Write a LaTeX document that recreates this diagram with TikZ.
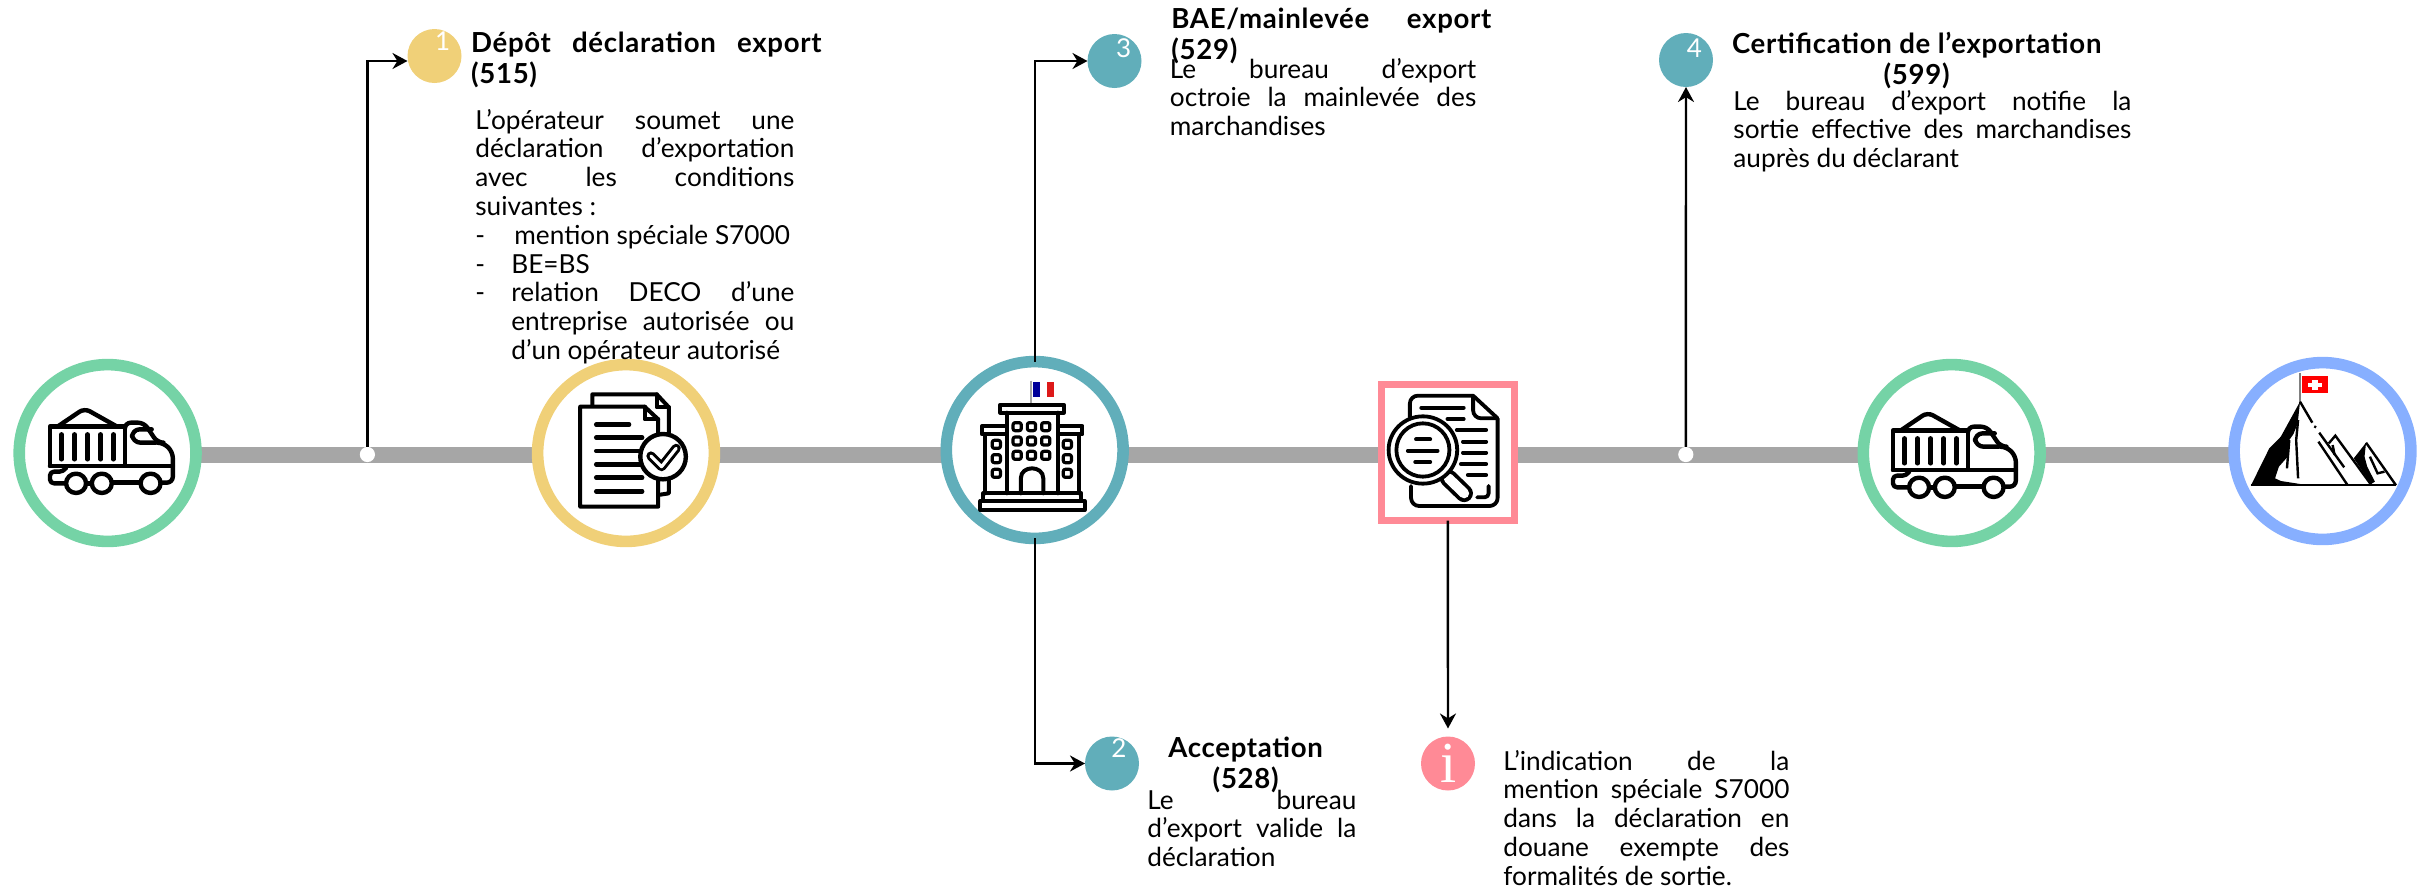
\documentclass[tikz,border=0pt]{standalone}
\usepackage{fontspec}
\setmainfont{Lato}
\newfontfamily\titlefont[LetterSpace=2.5]{Lato}
\newfontfamily\serifi{Liberation Serif}
\usetikzlibrary{arrows.meta,calc}
\definecolor{cgreen}{HTML}{75D3A6}
\definecolor{cyellow}{HTML}{F0D078}
\definecolor{cteal}{HTML}{61AEBA}
\definecolor{cpink}{HTML}{FF8A96}
\definecolor{cblue}{HTML}{87AFFF}
\definecolor{cbar}{HTML}{A6A6A6}
\newcommand\jl[1]{\hbox to\hsize{#1}}
\newcommand\fl[1]{\hbox to\hsize{#1\hfil}}
\newcommand\cl[1]{\hbox to\hsize{\hfil#1\hfil}}
\newcommand\blocktext[2]{\vtop{\hsize=#1\parindent=0pt\lineskiplimit=-100pt\baselineskip=14.4pt #2}}
\newcommand\blocktitle[2]{\vtop{\hsize=#1\parindent=0pt\lineskiplimit=-100pt\baselineskip=15.6pt #2}}
\newcommand\itemdash{\makebox[18pt][l]{-}}
\newcommand\trucksketch{%
  \draw[icon] (190,302) rectangle (385,420);
  \draw[icon,rounded corners=3pt] (212,300) -- (280,247) -- (362,300);
  \foreach \sx in {220,254,288,322,355} \draw[icon] (\sx,325) -- (\sx,400);
  \draw[icon,rounded corners=3pt] (385,300) -- (385,290) -- (435,290) -- (470,350) -- (485,350) -- (510,378) -- (510,470) -- (478,470);
  \draw[icon,rounded corners=4pt] (465,350) -- (405,350) -- (403,310) -- (455,310);
  \draw[icon] (190,420) -- (510,420);
  \draw[icon,rounded corners=2pt] (232,425) -- (225,437) -- (190,437) -- (190,472) -- (232,472);
  \draw[icon] (284,472) -- (298,472) (352,470) -- (426,470);
  \foreach \sx in {258,325,452} \draw[icon,fill=white] (\sx,472) circle [x radius=26,y radius=29];
}
\tikzset{
  icon/.style={draw=black,line width=2.2pt,line cap=round,line join=round},
  ring/.style={circle,draw=#1,line width=5.8pt,fill=white,minimum size=88.4pt,inner sep=0pt,outer sep=0pt},
  badge/.style={circle,fill=#1,minimum size=27pt,inner sep=0pt,outer sep=0pt},
  num/.style={text=white,inner sep=0pt,font=\fontsize{13}{15}\selectfont},
  dotj/.style={circle,fill=white,minimum size=7.6pt,inner sep=0pt,outer sep=0pt},
  conn/.style={draw=black,line width=1.2pt,-{Stealth[length=7.5pt,width=8pt]}},
  bodyt/.style={inner sep=0pt,anchor=base west,font=\fontsize{13.1}{14.4}\selectfont},
  titlet/.style={inner sep=0pt,anchor=base west,font=\titlefont\bfseries\fontsize{13.8}{15.6}\selectfont},
}
\begin{document}
\begin{tikzpicture}[x=0.5pt,y=-0.5pt]
\useasboundingbox (0,0) rectangle (2422,890);
\coordinate (barL) at (107,455);
\coordinate (barR) at (2322,455);
\draw[cbar,line width=8pt] (barL) -- (barR);
\node[dotj] (j1) at (367.4,454.5) {};
\node[dotj] (j2) at (1685.8,454.5) {};
% badges
\node[badge=cyellow] (n1) at (434.5,56) {};
\node[badge=cteal] (n3) at (1114.5,61) {};
\node[badge=cteal] (n4) at (1686,60) {};
\node[badge=cteal] (n2) at (1112,763.5) {};
\node[badge=cpink] (ni) at (1448,763.5) {};
% rings
\node[ring=cgreen] (c1) at (107.6,453) {};
\node[ring=cyellow] (c2) at (626,453) {};
\node[ring=cteal] (c3) at (1034.7,450) {};
\node[draw=cpink,line width=3.4pt,fill=white,inner sep=0pt,outer sep=0pt,minimum width=66.3pt,minimum height=68.1pt] (sq) at (1447.8,452.5) {};
\node[ring=cgreen] (c4) at (1951.7,453) {};
\node[ring=cblue] (c5) at (2322.5,451) {};
% connectors
\coordinate (a1) at ($(n1.west)+(0,5)$);
\draw[conn] (j1.north) |- (a1);
\draw[conn] (c3.north) |- (n3.west);
\draw[conn] (c3.south) |- (n2.west);
\draw[conn] (j2.north) -- (n4.south);
\draw[conn,shorten >=4pt] (sq.south) -- (ni.north);
% truck 1
\begin{scope}[shift={(-23,326)},xscale=0.384,yscale=0.3333]
\trucksketch
\end{scope}
% truck 2
\begin{scope}[shift={(1820,330)},xscale=0.384,yscale=0.3333]
\trucksketch
\end{scope}
% document icon
\begin{scope}[shift={(0,330)},xscale=0.4847,yscale=0.3333]
\draw[icon,line width=2pt] (1222,230) -- (1222,193) -- (1355,193) -- (1380,232) -- (1380,490) -- (1358,495);
\draw[icon,line width=2pt] (1355,193) -- (1355,232) -- (1380,232);
\draw[icon,line width=2pt,fill=white] (1197,230) -- (1330,230) -- (1358,268) -- (1358,530) -- (1197,530) -- cycle;
\draw[icon,line width=2pt] (1330,230) -- (1330,268) -- (1358,268);
\draw[icon] (1230,284) -- (1298,284);
\foreach \sy in {323,363,403,443,484} \draw[icon] (1230,\sy) -- (1325,\sy);
\draw[icon,fill=white] (1368,380) circle [x radius=47,y radius=68];
\draw[draw=black,line width=4.6pt,line join=round,line cap=round] (1343,378) -- (1365,410) -- (1395,355);
\draw[draw=white,line width=1.6pt,line join=round,line cap=round] (1343,378) -- (1365,410) -- (1395,355);
\end{scope}
% building icon
\begin{scope}[shift={(920,330)},xscale=0.4082,yscale=0.3333]
\draw[gray!70,line width=1pt] (271,152) -- (271,222);
\fill[white] (276,157) rectangle (328,200);
\fill[blue!60!black] (276,157) rectangle (293,200);
\fill[red!85!black!90!white] (311,157) rectangle (328,200);
\draw[icon,line width=2pt] (197,224) rectangle (352,248);
\draw[icon,line width=2pt] (212,248) -- (212,490) (337,248) -- (337,490);
\draw[icon,line width=2pt] (152,288) rectangle (212,313);
\draw[icon,line width=2pt] (337,288) rectangle (398,313);
\draw[icon,line width=2pt] (160,313) -- (160,490) (390,313) -- (390,490);
\draw[icon,line width=2pt] (155,490) rectangle (395,513);
\draw[icon,line width=2pt] (148,513) rectangle (403,540);
\draw[icon,line width=2pt] (247,490) -- (247,445) .. controls (247,405) and (302,405) .. (302,445) -- (302,490);
\foreach \sx in {238,273,308} \foreach \sy in {290,333,376}
  \draw[icon,line width=1.6pt,rounded corners=1pt] (\sx-10,\sy-12) rectangle (\sx+10,\sy+12);
\foreach \sx in {187,361} \foreach \sy in {343,386,430}
  \draw[icon,line width=1.6pt,rounded corners=1pt] (\sx-10,\sy-12) rectangle (\sx+10,\sy+12);
\end{scope}
% review icon
\begin{scope}[shift={(920,330)},xscale=0.4082,yscale=0.3333]
\draw[icon,line width=1.9pt,rounded corners=4pt] (1200,262) -- (1200,197) -- (1355,197);
\draw[icon,line width=1.9pt,rounded corners=1pt] (1355,197) -- (1415,265);
\draw[icon,line width=1.9pt,rounded corners=4pt] (1415,265) -- (1415,528) -- (1203,528) -- (1203,468);
\draw[icon,line width=1.9pt,rounded corners=4pt] (1355,197) -- (1355,265) -- (1412,265);
\draw[icon,line width=1.9pt] (1228,233) -- (1332,233) (1292,267) -- (1332,267) (1315,300) -- (1387,300) (1330,335) -- (1387,335) (1330,368) -- (1387,368) (1325,402) -- (1387,402) (1342,435) -- (1387,435);
\draw[icon,line width=1.9pt,rounded corners=2pt] (1393,468) -- (1393,502) -- (1365,502);
\draw[draw=black,line width=8.8pt,line cap=round] (1295,445) -- (1333,490);
\draw[draw=white,line width=5pt,line cap=round] (1295,445) -- (1333,490);
\draw[icon,line width=1.9pt,fill=white] (1232,360) circle [x radius=84,y radius=101];
\draw[icon,line width=1.9pt] (1232,360) circle [x radius=65,y radius=80];
\draw[icon,line width=1.9pt] (1215,328) -- (1250,328) (1195,362) -- (1268,362) (1213,396) -- (1250,396);
\end{scope}
% mountain icon
\begin{scope}[shift={(1820,330)},xscale=0.384,yscale=0.3333]
\draw[gray,line width=1pt] (1251,130) -- (1251,218);
\fill[red] (1255,138) rectangle (1322,190);
\fill[white] (1281,150) rectangle (1296,180);
\fill[white] (1270,158) rectangle (1306,171);
\fill[black] (1122,467) -- (1170,355) -- (1200,320) -- (1250,215) -- (1244,280) -- (1233,312) -- (1222,330) -- (1218,380) -- (1195,410) -- (1185,445) -- (1200,453) -- (1250,462) -- (1300,466) -- cycle;
\fill[black] (1390,385) -- (1422,338) -- (1418,380) -- (1425,410) -- (1445,455) -- (1435,462) -- cycle;
\draw[black,line width=1.1pt] (1122,466) -- (1500,466);
\draw[black,line width=1.2pt] (1250,215) -- (1282,278);
\draw[black,line width=1.2pt] (1287,289) -- (1292,292);
\draw[black,line width=1.2pt] (1300,308) -- (1365,412);
\draw[black,line width=1.2pt] (1298,335) -- (1373,464);
\draw[black,line width=1.2pt] (1325,340) -- (1342,317) -- (1435,464);
\draw[black,line width=1.2pt] (1335,345) -- (1340,375);
\draw[black,line width=1.2pt] (1422,338) -- (1500,466);
\draw[black,line width=1.2pt] (1432,380) -- (1452,430) -- (1470,425) ;
\draw[black,line width=1.2pt] (1245,270) -- (1240,330) -- (1245,445);
\draw[black,line width=1.2pt] (1222,330) -- (1216,415);
\end{scope}
% badge numbers
\node[num] (t1) at (442.6,40.7) {1};
\node[num] (t3) at (1123.6,48) {3};
\node[num] (t4) at (1694.5,48) {4};
\node[num] (t2) at (1119,748) {2};
\node[text=white,inner sep=0pt,font=\serifi\fontsize{29}{30}\selectfont] (ti) at (1448.5,763) {i};
% titles
\node[titlet] (h1) at (470.7,52) {\blocktitle{175.2pt}{\jl{Dépôt déclaration export}\fl{(515)}}};
\node[titlet] (h3) at (1171,28) {\blocktitle{160pt}{\jl{BAE/mainlevée export}\fl{(529)}}};
\node[titlet] (h4) at (1727,53) {\blocktitle{189.3pt}{\cl{Certification de l’exportation}\cl{(599)}}};
\node[titlet] (h2) at (1166.5,757) {\blocktitle{78.8pt}{\cl{Acceptation}\cl{(528)}}};
% bodies
\node[bodyt] (b1) at (475,129) {\blocktext{159.5pt}{\jl{L’opérateur soumet une}\jl{déclaration d’exportation}\jl{avec les conditions}\fl{suivantes :}\fl{\itemdash\kern1.5pt mention spéciale S7000}\fl{\itemdash BE=BS}\jl{\itemdash relation DECO d’une}\fl{\kern18pt\hbox to 141.5pt{entreprise autorisée ou}}\fl{\kern18pt d’un opérateur autorisé}}};
\node[bodyt] (b3) at (1169.5,78) {\blocktext{153.2pt}{\jl{Le bureau d’export}\jl{octroie la mainlevée des}\fl{marchandises}}};
\node[bodyt] (b4) at (1733,110) {\blocktext{199pt}{\jl{Le bureau d’export notifie la}\jl{sortie effective des marchandises}\fl{auprès du déclarant}}};
\node[bodyt] (b2) at (1147,809) {\blocktext{104.5pt}{\jl{Le bureau}\jl{d’export valide la}\fl{déclaration}}};
\node[bodyt] (bi) at (1503,770) {\blocktext{143pt}{\jl{L’indication de la}\jl{mention spéciale S7000}\jl{dans la déclaration en}\jl{douane exempte des}\fl{formalités de sortie.}}};
\end{tikzpicture}
\end{document}
